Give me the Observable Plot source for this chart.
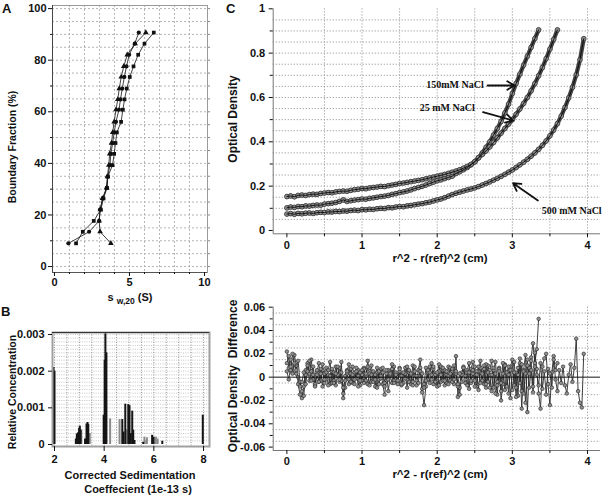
<!DOCTYPE html>
<html><head><meta charset="utf-8">
<script src="https://cdn.jsdelivr.net/npm/d3@7"></script>
<script src="https://cdn.jsdelivr.net/npm/@observablehq/plot@0.6"></script>
<style>
body{margin:0;background:#fff;}
#fig{position:relative;width:606px;height:497px;overflow:hidden;font-family:"Liberation Sans",Arial,sans-serif;color:#111;}
.t{position:absolute;font-weight:bold;white-space:pre;line-height:1;transform:translate(-50%,-50%);}
.r{transform:translate(-50%,-50%) rotate(-90deg);}
.L{position:absolute;font-weight:bold;font-size:13px;line-height:1;}
sub{font-size:8.5px;vertical-align:-3px;}
</style>
</head><body>
<div id="fig">
  <div class="L" style="left:2px;top:2px">A</div>
  <div class="L" style="left:1px;top:305px">B</div>
  <div class="L" style="left:226px;top:2px">C</div>
  <div class="t r" style="left:12px;top:147px;font-size:10.5px">Boundary Fraction (%)</div>
  <div class="t" style="left:130px;top:299px;font-size:11px">s <sub>w,20</sub> (S)</div>
  <div class="t r" style="left:12px;top:392px;font-size:10.5px">Relative Concentration</div>
  <div class="t" style="left:130px;top:475px;font-size:11px">Corrected Sedimentation</div>
  <div class="t" style="left:138px;top:489px;font-size:11px">Coeffecient (1e-13 s)</div>
  <div class="t r" style="left:233px;top:119px;font-size:12px">Optical Density</div>
  <div class="t" style="left:440px;top:259px;font-size:11.5px">r^2 - r(ref)^2 (cm)</div>
  <div class="t r" style="left:233px;top:376px;font-size:12px">Optical Density  Difference</div>
  <div class="t" style="left:440px;top:475px;font-size:11.5px">r^2 - r(ref)^2 (cm)</div>
</div>
<script>
// ---------- Panel A: boundary fraction vs s(w,20) ----------
const aFraction = [9, 13.5, 17.7, 22.1, 26.4, 30.5, 34.9, 39.3, 43.7, 47.9, 52, 56.1, 60.8, 64.8, 69, 73.5, 77.6, 82.1, 86.4, 90.7];
const aCircle   = [0.93, 2.31, 2.98, 3.04, 3.22, 3.49, 3.55, 3.70, 3.76, 3.88, 3.98, 4.10, 4.30, 4.40, 4.52, 4.66, 4.80, 4.98, 5.35, 5.62];
const aTriangle = [3.76, 3.04, 2.98, 3.06, 3.20, 3.47, 3.53, 3.62, 3.68, 3.80, 3.88, 3.98, 4.10, 4.22, 4.32, 4.45, 4.62, 4.85, 5.38, 6.09];
const aSquare   = [1.44, 1.89, 2.62, 3.09, 3.27, 3.50, 3.56, 3.87, 3.98, 4.07, 4.16, 4.44, 4.56, 4.67, 4.82, 5.02, 5.27, 5.58, 6.00, 6.62];
const aXTicks = [0, 5, 10];
const aXMinor = [1, 2, 3, 4, 6, 7, 8, 9];
const aYTicks = [0, 20, 40, 60, 80, 100];
const aYMinor = [10, 30, 50, 70, 90];

// ---------- Panel B: distribution of sedimentation coefficients ----------
const bCoef  = [1.96, 2.00, 2.86, 2.90, 2.95, 2.99, 3.02, 3.05, 3.08, 3.23, 3.29, 3.33, 3.36, 3.42, 3.98, 4.02, 4.05, 4.09, 4.24, 4.62, 4.73, 4.78, 4.85, 4.90, 4.97, 5.02, 5.07, 5.13, 5.17, 5.22, 5.57, 5.62, 5.69, 5.72, 5.93, 5.99, 6.08, 6.15, 6.34, 7.97];
const bConc  = [0.0021, 0.0020, 0.00015, 0.00029, 0.00032, 0.00044, 0.0005, 0.0004, 0.00038, 0.00015, 0.00056, 0.0006, 0.00055, 0.0003, 0.0008, 0.0023, 0.00305, 0.0025, 0.0007, 0.00068, 0.00068, 0.00034, 0.0011, 0.0004, 0.00109, 0.00106, 0.0003, 0.00091, 0.00039, 0.00011, 0.00006, 0.0002, 0.00011, 0.00018, 0.00025, 0.0002, 0.0002, 0.00015, 0.00009, 0.0008];
const bShade = ["k","k","k","k","k","k","k","k","g","k","k","k","k","g","k","k","k","k","g","g","k","k","k","g","k","k","k","k","k","k","k","g","g","g","k","k","g","g","k","k"];
const bXTicks = [2, 4, 6, 8];
const bYTicks = [0, 0.001, 0.002, 0.003];

// ---------- Panel C: absorbance scans (OD x1000, r^2-rref^2 step 0.05 from 0) ----------
const cStep = 0.05;
const c150 = [102,106,104,108,107,111,110,113,115,114, 119,121,123,126,131,138,131,134,137,139,
              142,141,145,147,150,153,155,158,163,166, 171,174,178,183,189,194,199,205,212,218,
              224,228,234,239,245,257,265,274,284,296, 310,328,350,375,400,430,460,492,530,570,
              618,663,705,746,786,826,866,905];
const c25  = [153,156,152,158,160,158,162,164,163,167, 169,171,170,174,176,178,177,181,184,186,
              189,188,192,194,196,199,198,202,205,208, 212,214,217,220,223,226,229,233,237,241,
              245,249,253,258,263,268,274,281,289,298, 310,328,343,359,377,397,418,439,460,480,
              500,524,548,573,600,630,663,698,735,775, 818,862,905];
const c500 = [74,76,73,77,75,78,79,77,80,82, 81,84,83,86,85,88,87,90,92,90,
              94,93,96,95,98,100,99,103,102,106, 108,107,111,113,116,119,121,125,128,133,
              138,142,148,155,162,168,173,178,183,187, 192,198,205,212,219,227,235,244,253,263,
              273,284,296,308,321,335,350,366,384,404, 427,453,482,516,555,598,646,702,770,865];
const cNames = ["150mM NaCl", "25 mM NaCl", "500 mM NaCl"];
const cXTicks = [0, 1, 2, 3, 4];
const cXMinor = [0.5, 1.5, 2.5, 3.5];
const cYTicks = [0, 0.2, 0.4, 0.6, 0.8, 1];
const cYMinor = [0.1, 0.3, 0.5, 0.7, 0.9];
// annotation arrows: text anchor and arrow ends in data units
const cNoteLabel = ["150mM NaCl", "25 mM NaCl", "500 mM NaCl"];
const cNoteTx = [2.62, 2.50, 3.39];
const cNoteTy = [0.655, 0.553, 0.09];
const cNoteX1 = [2.67, 2.61, 3.34];
const cNoteY1 = [0.654, 0.534, 0.135];
const cNoteX2 = [3.03, 3.01, 3.01];
const cNoteY2 = [0.654, 0.496, 0.213];

// ---------- Panel D: residuals (x1000, step 0.025 from 0) ----------
const dStep = 0.025;
const d150 = [22,8,15,4,19,10,-6,-15,-18,-8, 6,12,3,15,-2,-7,4,12,-3,6,
              -5,8,2,-6,5,-3,9,1,-4,13, -18,-9,3,-2,7,-5,4,-1,6,-7,
              2,8,-3,14,5,-4,3,-8,4,-2, 7,-6,-15,-3,6,1,-5,9,2,-4,
              5,-7,3,8,-2,4,-6,10,1,-3, 6,15,-10,-24,-8,4,9,-2,7,-5,
              3,11,-4,6,-7,2,9,-3,5,-6, 18,-17,-9,4,8,-2,6,12,-5,3,
              9,-8,5,14,-3,7,-9,10,2,-12, 6,13,-4,8,-20,-6,11,3,-14,9,
              15,-7,4,-16,12,-27,6,19,-30,8, 17,29,12,24,50];
const d25  = [12,18,6,20,11,3,14,-4,-12,-16, 2,10,-3,5,9,-6,2,-4,7,-8,
              3,-2,6,13,-5,4,-7,2,8,-3, -14,1,6,-6,3,9,-2,5,-8,4,
              -3,7,1,-6,3,10,-4,2,-9,5, -1,8,-5,3,-12,2,7,-3,4,-6,
              8,1,-5,3,-9,6,2,-4,9,-7, 1,5,-13,-6,8,-2,4,12,-6,2,
              -8,5,9,-3,6,-5,1,8,-4,10, 3,-8,-15,2,9,-5,4,-10,7,13,
              -3,5,-11,8,2,-6,11,-4,6,14, -9,3,-15,7,-5,12,-11,4,9,-18,
              6,13,-9,2,16,-12,5,-22,10,3, 14,-8,21,7,-14,-27,9,16,20,-6,
              -24,4,18,6,12];
const d500 = [5,-2,9,3,12,6,0,-8,-4,4, -6,5,14,-3,2,-8,6,-4,3,11,
              -2,4,-7,1,7,-5,3,9,-2,4, -9,-3,5,11,-4,2,-6,8,1,-3,
              6,-5,3,9,-7,2,5,-2,8,-6, 1,4,-8,6,-2,3,11,-5,2,-3,
              7,-6,4,-1,9,-4,3,-7,5,1, -5,8,3,-9,-3,6,-5,2,9,-4,
              4,-7,2,8,-3,5,-6,3,7,-2, 5,-6,3,-4,8,1,-7,4,-3,6,
              -8,2,9,-5,3,10,-6,4,-9,2, 8,-14,-7,5,-12,3,10,-8,2,6,
              -11,4,-17,8,-5,11,-14,3,15,-9, 6,-13,9,2,-7,12,-10,5,-15,7,
              3,-9,15,-2,-12,6,-5,9,-7,-14, 2,11,-4,8,33,-12,-22,-26,20];
const dXTicks = [0, 1, 2, 3, 4];
const dXMinor = [0.5, 1.5, 2.5, 3.5];
const dYTicks = [-0.06, -0.04, -0.02, 0, 0.02, 0.04, 0.06];
const dYMinor = [-0.05, -0.03, -0.01, 0.01, 0.03, 0.05];

// ================= build =================
const fig = document.getElementById("fig");
const baseStyle = {background: "transparent", overflow: "visible", fontFamily: "'Liberation Sans', Arial, sans-serif", fontSize: "11px", fontWeight: "bold", color: "#111"};
function place(el, left, top) { el.style.position = "absolute"; el.style.left = left + "px"; el.style.top = top + "px"; fig.appendChild(el); }
const blank = () => "";
const grid = {stroke: "#9c9c9c", strokeOpacity: 1, strokeWidth: 1, strokeDasharray: "1.2,1.8"};
const gridA = {stroke: "#b4b4b4", strokeOpacity: 1, strokeWidth: 1, strokeDasharray: "2,2"};
function fmt(d) { return d === 0 ? "0" : String(+d.toFixed(3)); }

// Panel A
const aSeries = [["circle", aCircle], ["triangle", aTriangle], ["square", aSquare]];
const aRows = aSeries.flatMap(([name, xs]) => xs.map((s, i) => ({name, s, f: aFraction[i]})));
const aXDom = [-0.13, 10.2], aYDom = [-2.3, 101.2];
const aGridX = [1,2,3,4,5,6,7,8,9];
const aGridY = [0,5,10,15,20,25,30,35,40,45,50,55,60,65,70,75,80,85,90,95,100];
place(Plot.plot({
  width: 215, height: 290, marginLeft: 52, marginRight: 8, marginTop: 5, marginBottom: 18,
  x: {domain: aXDom}, y: {domain: aYDom},
  symbol: {domain: ["circle", "triangle", "square"], range: ["circle", "triangle", "square"]},
  style: baseStyle,
  marks: [
    Plot.ruleX(aGridX, gridA),
    Plot.ruleY(aGridY, gridA),
    Plot.frame({stroke: "#9a9a9a"}),
    Plot.ruleX([aXDom[0]], {stroke: "#444"}),
    Plot.ruleY([aYDom[0]], {stroke: "#555"}),
    Plot.axisY(aYTicks, {anchor: "left", tickSize: 4, tickPadding: 2, label: null}),
    Plot.axisY(aYMinor, {anchor: "left", tickSize: 2, tickFormat: blank, label: null}),
    Plot.axisY(aGridY, {anchor: "right", tickSize: 2, tickFormat: blank, label: null, stroke: "#888"}),
    Plot.axisX(aXTicks, {anchor: "bottom", tickSize: 4, tickPadding: 2, label: null}),
    Plot.axisX(aXMinor, {anchor: "bottom", tickSize: 2, tickFormat: blank, label: null}),
    Plot.line(aRows, {x: "s", y: "f", z: "name", stroke: "#111", strokeWidth: 0.8}),
    Plot.dot(aRows, {x: "s", y: "f", symbol: "name", fill: "#111", r: 2.1})
  ]
}), 0, 0);

// Panel B
const bRows = bCoef.map((s, i) => ({s, c: bConc[i], shade: bShade[i]}));
const bXDom = [1.92, 8.24], bYDom = [-0.0000545, 0.003055];
const bGridY = d3.range(1, 31).map(i => i * 0.0001);
const bGridX = [2, 2.5, 3, 3.5, 4, 4.5, 5, 5.5, 6, 6.5, 7, 7.5, 8];
place(Plot.plot({
  width: 215, height: 207, marginLeft: 52, marginRight: 6, marginTop: 42, marginBottom: 51,
  x: {domain: bXDom}, y: {domain: bYDom},
  style: baseStyle,
  marks: [
    Plot.ruleY(bGridY, {stroke: "#b8b8b8", strokeWidth: 0.8, strokeDasharray: "1,1.3"}),
    Plot.ruleX(bGridX, {stroke: "#7c7c7c", strokeWidth: 0.8, strokeDasharray: "1,1.5"}),
    Plot.ruleX(bRows.filter(d => d.shade === "g"), {x: "s", y1: 0, y2: "c", stroke: "#8a8a8a", strokeWidth: 2}),
    Plot.ruleX(bRows.filter(d => d.shade === "k"), {x: "s", y1: 0, y2: "c", stroke: "#151515", strokeWidth: 2}),
    Plot.frame({stroke: "#a0a0a0", strokeWidth: 2}),
    Plot.ruleY([bYDom[1]], {stroke: "#333", strokeWidth: 1}),
    Plot.axisY(bYTicks, {anchor: "left", tickSize: 4, tickPadding: 4, tickFormat: fmt, label: null}),
    Plot.axisX(bXTicks, {anchor: "bottom", tickSize: 5, tickPadding: 4, label: null})
  ]
}), 0, 290);

// Panel C
const cData = [c150, c25, c500];
const cRows = cNames.flatMap((name, k) => cData[k].map((v, i) => ({name, r: i * cStep, od: v / 1000})));
const cNotes = cNoteLabel.map((label, i) => ({label, tx: cNoteTx[i], ty: cNoteTy[i], x1: cNoteX1[i], y1: cNoteY1[i], x2: cNoteX2[i], y2: cNoteY2[i]}));
const cXDom = [-0.182, 4.173], cYDom = [-0.015, 1.0];
const cGridX = [0.5, 1, 1.5, 2, 2.5, 3, 3.5, 4];
const cGridY = [0.05,0.1,0.15,0.2,0.25,0.3,0.35,0.4,0.45,0.5,0.55,0.6,0.65,0.7,0.75,0.8,0.85,0.9,0.95];
place(Plot.plot({
  width: 391, height: 275, marginLeft: 57.7, marginRight: 6, marginTop: 8.3, marginBottom: 41.7,
  x: {domain: cXDom}, y: {domain: cYDom},
  style: baseStyle,
  marks: [
    Plot.ruleX(cGridX, grid),
    Plot.ruleY(cGridY, grid),
    Plot.ruleX([cXDom[0]], {stroke: "#777"}),
    Plot.ruleY([cYDom[0]], {stroke: "#777"}),
    Plot.axisY(cYTicks, {anchor: "left", tickSize: 4, tickPadding: 4, tickFormat: fmt, label: null}),
    Plot.axisY(cYMinor, {anchor: "left", tickSize: 3, tickFormat: blank, label: null}),
    Plot.axisX(cXTicks, {anchor: "bottom", tickSize: 4, tickPadding: 3, label: null}),
    Plot.axisX(cXMinor, {anchor: "bottom", tickSize: 3, tickFormat: blank, label: null}),
    Plot.line(cRows, {x: "r", y: "od", z: "name", stroke: "#444", strokeWidth: 4.2}),
    Plot.dot(cRows, {x: "r", y: "od", r: 2.4, fill: "#8e8e8e", stroke: "#333", strokeWidth: 0.8}),
    Plot.line(cRows, {x: "r", y: "od", z: "name", stroke: "#111", strokeWidth: 1}),
    Plot.arrow(cNotes, {x1: "x1", y1: "y1", x2: "x2", y2: "y2", stroke: "#111", strokeWidth: 1.8, headLength: 7}),
    Plot.text(cNotes.filter((d, i) => i < 2), {x: "tx", y: "ty", text: "label", textAnchor: "end", fontFamily: "'Liberation Serif', 'Times New Roman', serif", fontSize: 10, fontWeight: "bold", fill: "#111"}),
    Plot.text(cNotes.filter((d, i) => i === 2), {x: "tx", y: "ty", text: "label", textAnchor: "start", fontFamily: "'Liberation Serif', 'Times New Roman', serif", fontSize: 10, fontWeight: "bold", fill: "#111"})
  ]
}), 215, 0);

// Panel D
const dData = [d150, d25, d500];
const dRows = cNames.flatMap((name, k) => dData[k].map((v, i) => ({name, r: i * dStep, e: v / 1000})));
const dXDom = [-0.182, 4.173], dYDom = [-0.0629, 0.06];
const dGridY = [-0.055,-0.045,-0.035,-0.025,-0.015,-0.005,0.005,0.015,0.025,0.035,0.045,0.055];
place(Plot.plot({
  width: 391, height: 222, marginLeft: 57.7, marginRight: 6, marginTop: 31.7, marginBottom: 47,
  x: {domain: dXDom}, y: {domain: dYDom},
  style: baseStyle,
  marks: [
    Plot.ruleX(cGridX, grid),
    Plot.ruleY(dGridY, grid),
    Plot.ruleX([dXDom[0]], {stroke: "#777"}),
    Plot.ruleY([dYDom[0]], {stroke: "#777"}),
    Plot.axisY(dYTicks, {anchor: "left", tickSize: 4, tickPadding: 4, tickFormat: fmt, label: null}),
    Plot.axisY(dYMinor, {anchor: "left", tickSize: 3, tickFormat: blank, label: null}),
    Plot.axisX(dXTicks, {anchor: "bottom", tickSize: 4, tickPadding: 3, label: null}),
    Plot.axisX(dXMinor, {anchor: "bottom", tickSize: 3, tickFormat: blank, label: null}),
    Plot.line(dRows, {x: "r", y: "e", z: "name", stroke: "#2a2a2a", strokeWidth: 0.9}),
    Plot.dot(dRows, {x: "r", y: "e", r: 1.8, fill: "#909090", stroke: "#222", strokeWidth: 0.6}),
    Plot.ruleY([0], {stroke: "#111", strokeWidth: 1})
  ]
}), 215, 275);
</script>
</body></html>
